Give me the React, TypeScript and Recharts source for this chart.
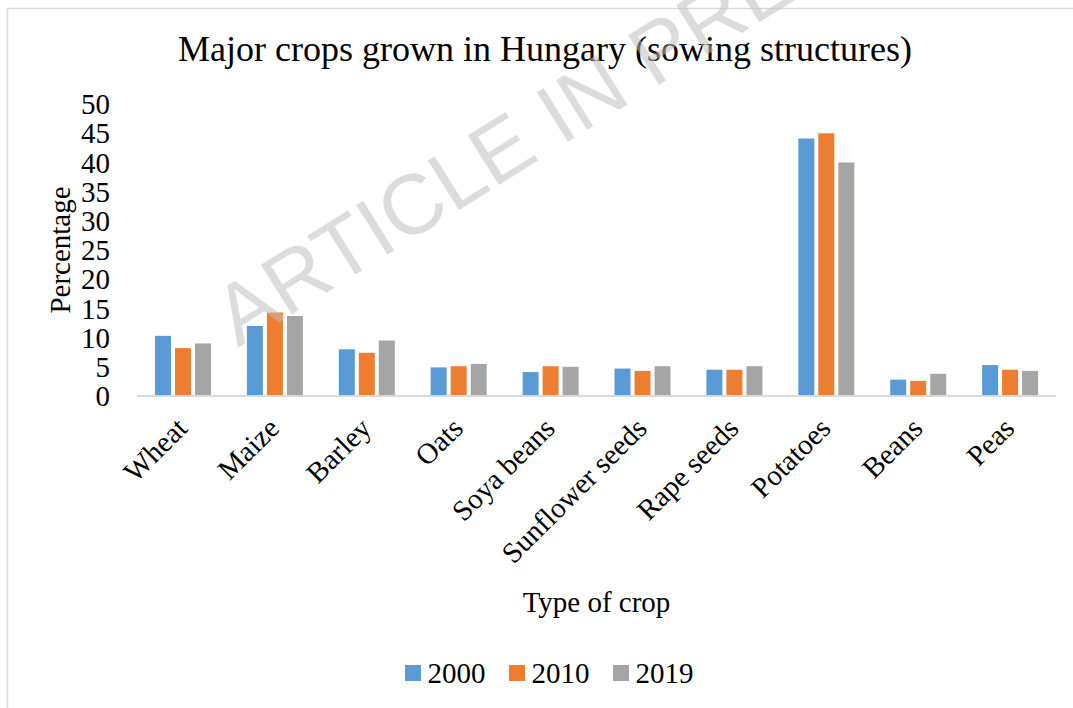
import React from 'react'
import { BarChart, Bar, XAxis, YAxis, Legend, Label } from 'recharts'

const crops = ['Wheat', 'Maize', 'Barley', 'Oats', 'Soya beans', 'Sunflower seeds', 'Rape seeds', 'Potatoes', 'Beans', 'Peas']
const values2000 = [10.3, 12.0, 8.0, 4.9, 4.1, 4.7, 4.5, 44.1, 2.8, 5.3]
const values2010 = [8.2, 14.3, 7.4, 5.1, 5.1, 4.3, 4.5, 45.0, 2.6, 4.5]
const values2019 = [9.0, 13.7, 9.5, 5.5, 5.0, 5.1, 5.1, 40.0, 3.8, 4.3]
const yTicks = [0, 5, 10, 15, 20, 25, 30, 35, 40, 45, 50]

const SERIES = [
  { key: 'y2000', name: '2000', color: '#5b9bd5' },
  { key: 'y2010', name: '2010', color: '#ed7d31' },
  { key: 'y2019', name: '2019', color: '#a5a5a5' }
]

const FONT = '"Liberation Serif", "Times New Roman", serif'

const data = crops.map((crop, i) => ({
  crop,
  y2000: values2000[i],
  y2010: values2010[i],
  y2019: values2019[i]
}))

const CropTick = ({ x, y, payload }: any) => {
  const tx = x + 6
  const ty = y + 34
  return (
    <text
      x={tx}
      y={ty}
      transform={`rotate(-45, ${tx}, ${ty})`}
      textAnchor="end"
      fontSize={29}
      fontFamily={FONT}
      fill="#000"
    >
      {payload.value}
    </text>
  )
}

const YearLegend = () => (
  <div style={{ display: 'flex', justifyContent: 'center', paddingLeft: 25, fontFamily: FONT, fontSize: 29, lineHeight: '32px', color: '#000' }}>
    {SERIES.map((s, i) => (
      <div key={s.key} style={{ display: 'flex', alignItems: 'center', marginLeft: i === 0 ? 0 : 23 }}>
        <div style={{ width: 16, height: 16, background: s.color, marginRight: 7 }} />
        <span>{s.name}</span>
      </div>
    ))}
  </div>
)

export default function App() {
  return (
    <div style={{ position: 'absolute', left: 0, top: 0, width: 1073, height: 708, background: '#fff' }}>
      <BarChart
        width={1073}
        height={708}
        data={data}
        margin={{ top: 104, right: 17, bottom: 0, left: 0 }}
        barSize={16}
        barGap={4}
      >
        <XAxis
          dataKey="crop"
          height={312}
          interval={0}
          tickLine={false}
          tickSize={0}
          tickMargin={0}
          axisLine={{ stroke: '#d9d9d9', strokeWidth: 2 }}
          tick={<CropTick />}
        >
          <Label
            value="Type of crop"
            position="insideBottom"
            offset={96}
            fontSize={29}
            fontFamily={FONT}
            fill="#000"
          />
        </XAxis>
        <YAxis
          width={137}
          domain={[0, 50]}
          ticks={yTicks}
          interval={0}
          axisLine={false}
          tickLine={false}
          tickSize={0}
          tickMargin={27}
          tick={{ fill: '#000', fontSize: 29, fontFamily: FONT }}
        >
          <Label
            value="Percentage"
            angle={-90}
            position="insideLeft"
            offset={60}
            fontSize={29}
            fontFamily={FONT}
            fill="#000"
            style={{ textAnchor: 'middle' }}
          />
        </YAxis>
        <Legend
          layout="horizontal"
          verticalAlign="middle"
          align="center"
          content={<YearLegend />}
          wrapperStyle={{ top: 657, left: 0, width: 1073 }}
        />
        {SERIES.map((s) => (
          <Bar key={s.key} dataKey={s.key} name={s.name} fill={s.color} isAnimationActive={false} />
        ))}
      </BarChart>
      <svg width={1073} height={708} style={{ position: 'absolute', left: 0, top: 0, pointerEvents: 'none' }}>
        <rect x={7.5} y={8.5} width={1200} height={800} fill="none" stroke="#d9d9d9" strokeWidth={1.5} />
        <text x={545} y={61} textAnchor="middle" fontSize={36} fontFamily={FONT} fill="#000">
          Major crops grown in Hungary (sowing structures)
        </text>
        <text
          x={238}
          y={348}
          transform="rotate(-32, 238, 348)"
          fontSize={85}
          fontFamily='"Liberation Sans", Arial, sans-serif'
          fill="#bfbfbf"
          fillOpacity={0.55}
        >
          ARTICLE IN PRESS
        </text>
      </svg>
    </div>
  )
}
